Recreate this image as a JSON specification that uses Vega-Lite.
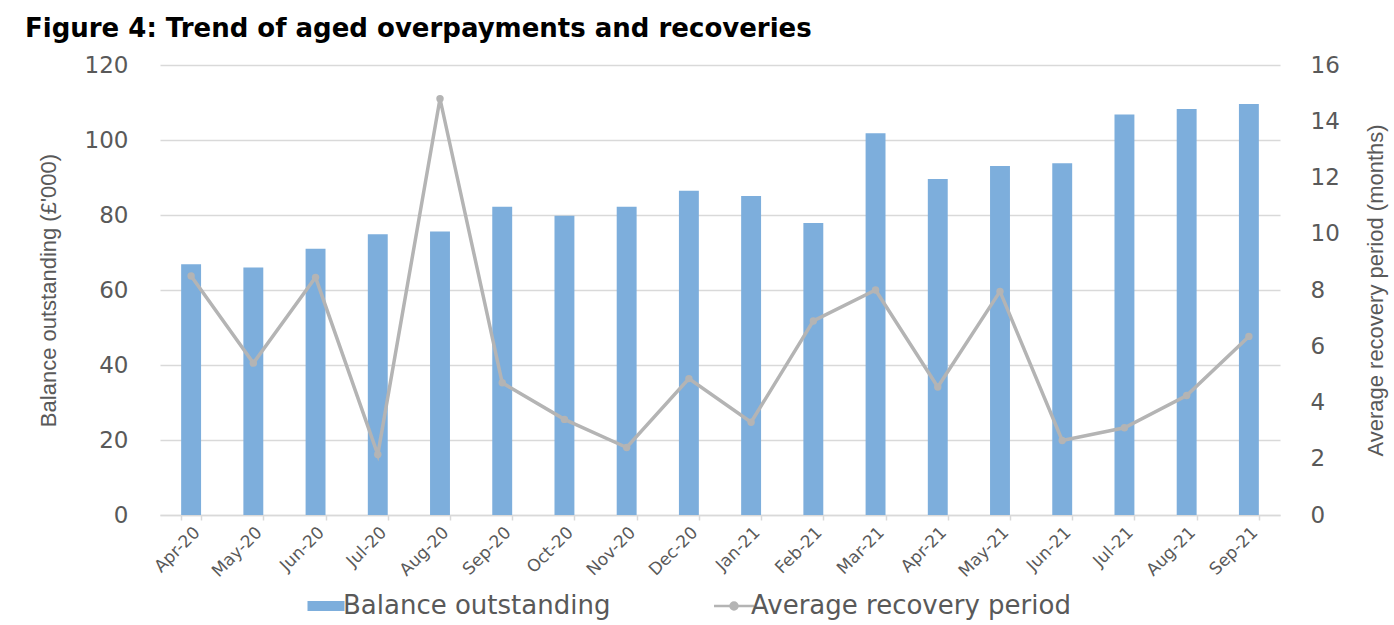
{
  "$schema": "https://vega.github.io/schema/vega-lite/v6.json",
  "width": 1120,
  "height": 450,
  "autosize": {"type": "none"},
  "padding": {"left": 160, "top": 65, "right": 114, "bottom": 110},
  "background": "#ffffff",
  "title": {
    "text": "Figure 4: Trend of aged overpayments and recoveries",
    "anchor": "start",
    "frame": "group",
    "dx": -135,
    "offset": 12,
    "font": "DejaVu Sans",
    "fontSize": 26,
    "fontWeight": "bold",
    "color": "#000000"
  },
  "data": {
    "values": [
      {"month": "Apr-20", "balance": 66.9, "period": 8.5},
      {"month": "May-20", "balance": 66.0, "period": 5.4},
      {"month": "Jun-20", "balance": 71.0, "period": 8.45},
      {"month": "Jul-20", "balance": 74.9, "period": 2.15},
      {"month": "Aug-20", "balance": 75.6, "period": 14.8},
      {"month": "Sep-20", "balance": 82.2, "period": 4.7},
      {"month": "Oct-20", "balance": 79.8, "period": 3.4},
      {"month": "Nov-20", "balance": 82.2, "period": 2.4},
      {"month": "Dec-20", "balance": 86.5, "period": 4.85},
      {"month": "Jan-21", "balance": 85.1, "period": 3.3},
      {"month": "Feb-21", "balance": 77.9, "period": 6.9},
      {"month": "Mar-21", "balance": 101.8, "period": 8.0},
      {"month": "Apr-21", "balance": 89.6, "period": 4.55},
      {"month": "May-21", "balance": 93.1, "period": 7.95},
      {"month": "Jun-21", "balance": 93.8, "period": 2.65},
      {"month": "Jul-21", "balance": 106.8, "period": 3.1},
      {"month": "Aug-21", "balance": 108.3, "period": 4.25},
      {"month": "Sep-21", "balance": 109.6, "period": 6.35}
    ]
  },
  "encoding": {
    "x": {
      "field": "month",
      "type": "ordinal",
      "sort": null,
      "scale": {"paddingInner": 0.68, "paddingOuter": 0.34},
      "axis": {
        "title": null,
        "labelAngle": -45,
        "labelFont": "DejaVu Sans",
        "labelFontSize": 17,
        "labelColor": "#595959",
        "domainColor": "#D9D9D9",
        "domainWidth": 1.5,
        "tickColor": "#D9D9D9",
        "tickWidth": 1.5,
        "tickSize": 5,
        "tickBand": "extent",
        "labelPadding": 4,
        "grid": false
      }
    }
  },
  "layer": [
    {
      "mark": {"type": "bar"},
      "encoding": {
        "y": {
          "field": "balance",
          "type": "quantitative",
          "scale": {"domain": [0, 120], "nice": false},
          "axis": {
            "orient": "left",
            "title": "Balance outstanding (£'000)",
            "values": [0, 20, 40, 60, 80, 100, 120],
            "grid": true,
            "gridColor": "#D9D9D9",
            "gridWidth": 1.5,
            "domain": false,
            "ticks": false,
            "labelPadding": 32,
            "labelFont": "DejaVu Sans",
            "labelFontSize": 23,
            "labelColor": "#595959",
            "titleFont": "Liberation Sans",
            "titleFontSize": 22,
            "titleFontWeight": "normal",
            "titleColor": "#595959",
            "titlePadding": 24
          }
        },
        "color": {
          "datum": "Balance outstanding",
          "scale": {
            "domain": ["Balance outstanding", "Average recovery period"],
            "range": ["#7DAEDC", "#B4B4B4"]
          },
          "legend": {
            "orient": "none",
            "legendX": 153,
            "legendY": 528,
            "direction": "horizontal",
            "title": null,
            "labelFont": "DejaVu Sans",
            "labelFontSize": 26,
            "labelColor": "#595959",
            "labelLimit": 0,
            "symbolSize": 1369,
            "columnPadding": 98,
            "labelOffset": 4,
            "encode": {
              "symbols": {
                "update": {
                  "shape": {"signal": "datum.label === 'Balance outstanding' ? 'M-1,-0.27H1V0.27H-1Z' : 'M-1.08,0H1.08M0.19,0A0.19,0.19,0,1,1,-0.19,0A0.19,0.19,0,1,1,0.19,0'"},
                  "fill": {"signal": "datum.label === 'Balance outstanding' ? '#7DAEDC' : '#B4B4B4'"},
                  "stroke": {"signal": "datum.label === 'Balance outstanding' ? '#7DAEDC' : '#B4B4B4'"},
                  "strokeWidth": {"signal": "datum.label === 'Balance outstanding' ? 0 : 2.5"},
                  "size": {"value": 1369},
                  "opacity": {"value": 1},
                  "fillOpacity": {"value": 1},
                  "strokeOpacity": {"value": 1}
                }
              }
            }
          }
        }
      }
    },
    {
      "mark": {"type": "line", "strokeWidth": 3.5, "point": {"filled": true, "size": 55, "opacity": 1}},
      "encoding": {
        "y": {
          "field": "period",
          "type": "quantitative",
          "scale": {"domain": [0, 16], "nice": false},
          "axis": {
            "orient": "right",
            "title": "Average recovery period (months)",
            "values": [0, 2, 4, 6, 8, 10, 12, 14, 16],
            "grid": false,
            "domain": false,
            "ticks": false,
            "labelPadding": 30,
            "labelFont": "DejaVu Sans",
            "labelFontSize": 23,
            "labelColor": "#595959",
            "titleFont": "Liberation Sans",
            "titleFontSize": 22,
            "titleFontWeight": "normal",
            "titleColor": "#595959",
            "titleAngle": -90,
            "titlePadding": 48
          }
        },
        "color": {"datum": "Average recovery period"}
      }
    }
  ],
  "resolve": {"scale": {"y": "independent"}},
  "config": {
    "view": {"stroke": null}
  }
}
